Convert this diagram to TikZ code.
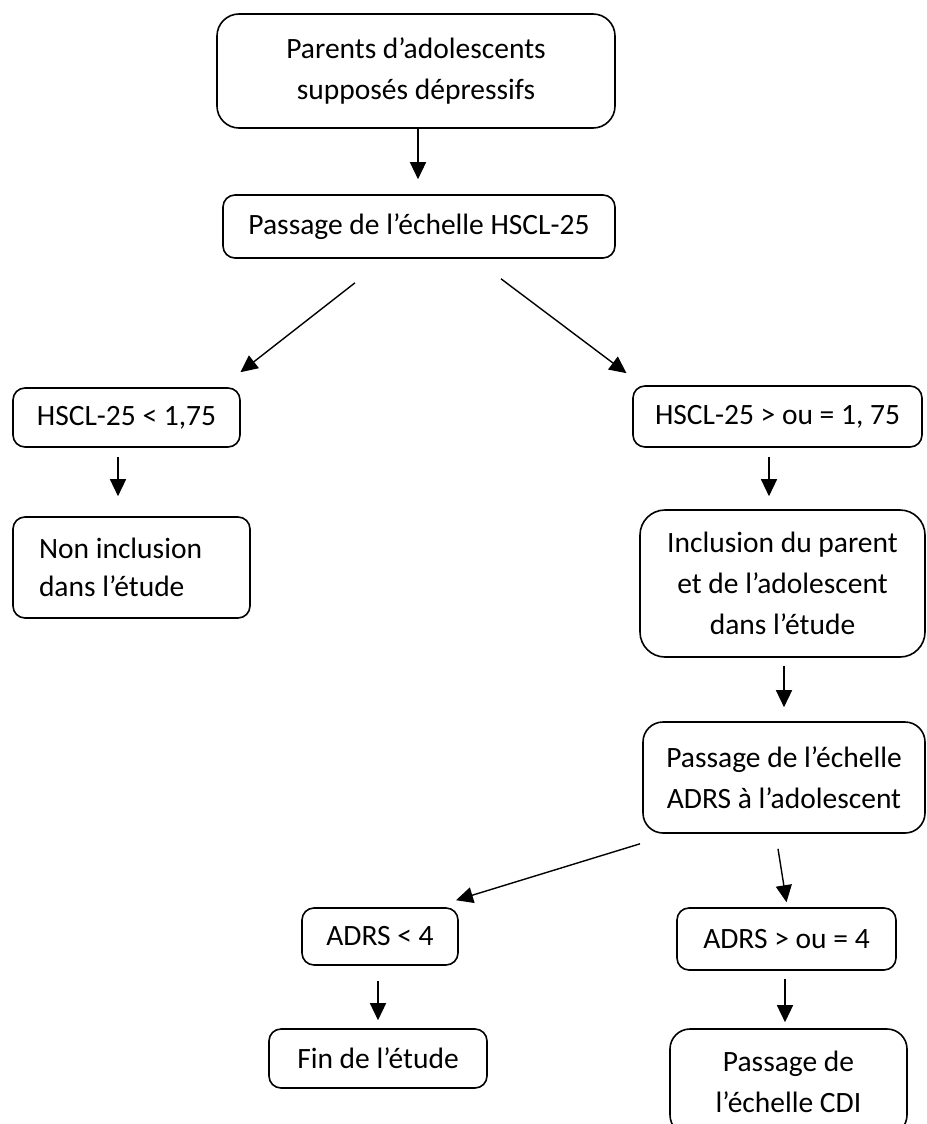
\documentclass[tikz,border=0pt]{standalone}
\usepackage{fontspec}
\setmainfont{Carlito}
\usetikzlibrary{arrows.meta}

\begin{document}
\begin{tikzpicture}[x=1pt,y=-1pt,
	boite/.style={draw,line width=1.6pt,rounded corners=12pt,inner sep=0pt,align=center,
		font=\fontsize{29.5}{41}\selectfont},
	fleche/.style={line width=1.4pt,-{Triangle[length=17pt,width=16pt]}}]
\useasboundingbox (0,0) rectangle (926,1124);

% boites
\node[boite,rounded corners=22pt,minimum width=398pt,minimum height=114pt] (parents) at (416,71)
	{Parents d’adolescents\\supposés dépressifs};
\node[boite,minimum width=392pt,minimum height=63pt] (hscl) at (419,226.5)
	{Passage de l’échelle HSCL-25};
\node[boite,minimum width=227pt,minimum height=59pt] (hsclinf) at (126.5,417.5)
	{HSCL-25 < 1,75};
\node[boite,minimum width=289pt,minimum height=61pt] (hsclsup) at (777.5,416.5)
	{HSCL-25 > ou = 1, 75};
\node[boite,align=flush left,text width=185pt,inner xsep=26pt,minimum height=101pt,
	font=\fontsize{29.5}{38}\selectfont] (noninc) at (131.5,567.5)
	{Non inclusion\\dans l’étude};
\node[boite,rounded corners=25pt,minimum width=285pt,minimum height=147pt] (inclus) at (782.5,583.5)
	{Inclusion du parent\\et de l’adolescent\\dans l’étude};
\node[boite,rounded corners=20pt,minimum width=282pt,minimum height=111pt] (adrs) at (784,777.5)
	{Passage de l’échelle\\ADRS à l’adolescent};
\node[boite,minimum width=156pt,minimum height=57pt] (adrsinf) at (380,936.5)
	{ADRS < 4};
\node[boite,minimum width=219pt,minimum height=62pt] (adrssup) at (786.5,939)
	{ADRS > ou = 4};
\node[boite,minimum width=218pt,minimum height=59pt] (fin) at (378,1058.5)
	{Fin de l’étude};
\node[boite,rounded corners=20pt,minimum width=237pt,minimum height=106pt] (cdi) at (788.5,1082)
	{Passage de\\l’échelle CDI};

% fleches
\draw[fleche] ([xshift=2pt]parents.south) -- ([xshift=-1pt,yshift=15pt]hscl.north);
\draw[fleche] ([xshift=-64pt,yshift=-24pt]hscl.south) -- ([xshift=114pt,yshift=15pt]hsclinf.north);
\draw[fleche] ([xshift=82pt,yshift=-20pt]hscl.south) -- ([xshift=-151pt,yshift=12pt]hsclsup.north);
\draw[fleche] ([xshift=-8.5pt,yshift=-9pt]hsclinf.south) -- ([xshift=-13.5pt,yshift=20pt]noninc.north);
\draw[fleche] ([xshift=-8.5pt,yshift=-9pt]hsclsup.south) -- ([xshift=-13.5pt,yshift=13pt]inclus.north);
\draw[fleche] ([xshift=1.5pt,yshift=-8pt]inclus.south) -- ([yshift=14pt]adrs.north);
\draw[fleche] ([xshift=-144pt,yshift=-10pt]adrs.south) -- ([xshift=76pt,yshift=7pt]adrsinf.north);
\draw[fleche] ([xshift=-6pt,yshift=-15pt]adrs.south) -- ([yshift=5pt]adrssup.north);
\draw[fleche] ([xshift=-2pt,yshift=-15pt]adrsinf.south) -- ([yshift=8pt]fin.north);
\draw[fleche] ([xshift=-1.5pt,yshift=-8pt]adrssup.south) -- ([xshift=-3.5pt,yshift=6pt]cdi.north);
\end{tikzpicture}
\end{document}
